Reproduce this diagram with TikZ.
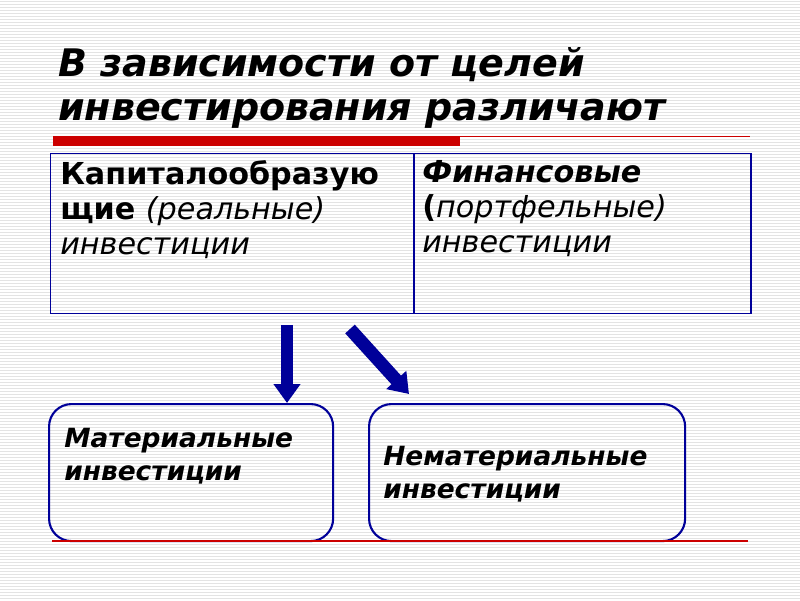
\documentclass[tikz,border=0pt]{standalone}
\usepackage{fontspec}
\setmainfont{DejaVu Sans}
\usetikzlibrary{arrows.meta}

\definecolor{slidenavy}{RGB}{0,0,153}
\definecolor{slidered}{RGB}{204,0,0}

\tikzset{
  stripe/.style={gray!22, line width=0.5pt},
  cell/.style={draw=slidenavy, line width=1pt, inner sep=0pt, anchor=north west, minimum height=4cm},
  celltext/.style={anchor=north west, align=left, inner sep=0pt, font=\fontsize{21.5}{25}\selectfont},
  kind/.style={draw=slidenavy, line width=1.5pt, rounded corners=16pt, inner sep=0pt, anchor=north west, minimum height=3.425cm},
  kindtext/.style={anchor=north west, align=left, inner sep=0pt, font=\bfseries\itshape\fontsize{18.8}{23.4}\selectfont},
  bigarrow/.style={slidenavy, line width=9.2pt, -{Triangle[width=18.4pt, length=13.5pt]}}
}

\begin{document}
\begin{tikzpicture}[x=0.025cm, y=-0.025cm]
\useasboundingbox (0,0) rectangle (800,600);
% striped slide background
\fill[white] (0,0) rectangle (800,600);
\foreach \y in {1,4,...,599}
  \draw[stripe] (0,\y) -- (800,\y);

% title
\node[anchor=north west, align=left, inner sep=0pt, font=\bfseries\itshape\fontsize{27}{31.5}\selectfont] (title) at (58,47)
  {В зависимости от целей\\инвестирования различают};
\fill[slidered] (53,136) rectangle (460,146);
\draw[slidered, line width=1pt] (460,136.5) -- (750,136.5);

% table of the two kinds
\node[cell, minimum width=9.075cm] (real) at (50,153) {};
\node[cell, minimum width=8.425cm] (fin) at (413,153) {};
\node[celltext] (realtext) at (60,160)
  {\bfseries Капиталообразую\\
   \bfseries щие \mdseries\itshape(реальные)\\
   \itshape инвестиции};
\node[celltext] (fintext) at (422,160)
  {\bfseries\itshape Финансовые\\
   \bfseries(\mdseries\itshape портфельные)\\
   \itshape инвестиции};

% lower boxes
\node[kind, minimum width=7.1cm] (mat) at (48,403) {};
\node[kind, minimum width=7.9cm] (nonmat) at (368,403) {};
\node[kindtext] (mattext) at (64,428) {Материальные\\инвестиции};
\node[kindtext] (nonmattext) at (383,446) {Нематериальные\\инвестиции};
\draw[slidered, line width=1pt] (52,541) -- (748,541);

% arrows
\coordinate (down) at (287,325);
\coordinate (slant) at (350,329);
\draw[bigarrow] (down) -- (down |- mat.north);
\draw[bigarrow] (slant) -- ([shift={(41,-9)}]nonmat.north west);
\end{tikzpicture}
\end{document}
